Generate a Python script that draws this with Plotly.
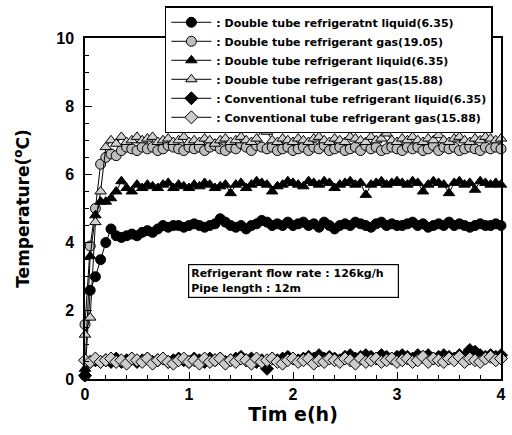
import plotly.graph_objects as go

time_h = [
    0.00, 0.05, 0.10, 0.15, 0.20, 0.25, 0.30, 0.35, 0.40, 0.45, 0.50, 0.55, 0.60, 0.65, 0.70, 0.75, 0.80, 0.85, 0.90, 0.95, 1.00,
    1.05, 1.10, 1.15, 1.20, 1.25, 1.30, 1.35, 1.40, 1.45, 1.50, 1.55, 1.60, 1.65, 1.70, 1.75, 1.80, 1.85, 1.90, 1.95, 2.00,
    2.05, 2.10, 2.15, 2.20, 2.25, 2.30, 2.35, 2.40, 2.45, 2.50, 2.55, 2.60, 2.65, 2.70, 2.75, 2.80, 2.85, 2.90, 2.95, 3.00,
    3.05, 3.10, 3.15, 3.20, 3.25, 3.30, 3.35, 3.40, 3.45, 3.50, 3.55, 3.60, 3.65, 3.70, 3.75, 3.80, 3.85, 3.90, 3.95, 4.00,
]

dt_liquid_635 = [
    0.1, 2.6, 3.0, 3.5, 4.0, 4.4, 4.2, 4.15, 4.2, 4.25, 4.2, 4.3, 4.35, 4.3, 4.4, 4.5, 4.45, 4.5, 4.5, 4.45, 4.5,
    4.55, 4.5, 4.45, 4.5, 4.55, 4.7, 4.6, 4.5, 4.45, 4.5, 4.4, 4.5, 4.55, 4.65, 4.6, 4.5, 4.55, 4.5, 4.6, 4.5,
    4.55, 4.6, 4.5, 4.55, 4.45, 4.6, 4.5, 4.4, 4.5, 4.55, 4.5, 4.6, 4.55, 4.5, 4.45, 4.55, 4.6, 4.5, 4.55, 4.5,
    4.5, 4.55, 4.6, 4.5, 4.55, 4.45, 4.5, 4.55, 4.5, 4.6, 4.5, 4.55, 4.5, 4.45, 4.5, 4.55, 4.5, 4.5, 4.55, 4.5,
]

dt_gas_1905 = [
    1.6, 3.9, 5.0, 6.3, 6.5, 6.6, 6.55, 6.7, 6.8, 6.75, 6.7, 6.8, 6.75, 6.8, 6.7, 6.75, 6.85, 6.8, 6.75, 6.7, 6.8,
    6.75, 6.8, 6.7, 6.8, 6.85, 6.75, 6.7, 6.8, 6.75, 6.9, 6.8, 6.7, 6.85, 6.8, 6.75, 6.8, 6.7, 6.75, 6.8, 6.7,
    6.75, 6.8, 6.7, 6.8, 6.75, 6.85, 6.7, 6.75, 6.8, 6.7, 6.75, 6.8, 6.7, 6.85, 6.75, 6.8, 6.7, 6.75, 6.8, 6.75,
    6.7, 6.8, 6.75, 6.8, 6.7, 6.75, 6.85, 6.7, 6.8, 6.75, 6.8, 6.7, 6.75, 6.8, 6.75, 6.7, 6.8, 6.75, 6.8, 6.75,
]

dt_liquid_635_b = [
    0.3, 3.6, 4.8, 5.2, 5.2, 5.3, 5.5, 5.8, 5.6, 5.5, 5.7, 5.6, 5.7, 5.65, 5.6, 5.7, 5.75, 5.6, 5.7, 5.65, 5.6,
    5.7, 5.65, 5.75, 5.7, 5.6, 5.65, 5.7, 5.45, 5.7, 5.75, 5.6, 5.7, 5.8, 5.75, 5.7, 5.5, 5.65, 5.7, 5.8, 5.75,
    5.7, 5.65, 5.8, 5.75, 5.7, 5.8, 5.75, 5.6, 5.7, 5.75, 5.8, 5.7, 5.75, 5.4, 5.7, 5.75, 5.8, 5.7, 5.75, 5.8,
    5.75, 5.7, 5.8, 5.75, 5.5, 5.7, 5.8, 5.75, 5.7, 5.45, 5.75, 5.8, 5.7, 5.75, 5.55, 5.8, 5.75, 5.7, 5.75, 5.7,
]

dt_gas_1588 = [
    1.3, 1.8, 4.6, 5.5, 6.8, 7.0, 6.9, 7.1, 6.95, 7.0, 7.1, 7.0, 7.05, 7.1, 6.95, 7.0, 7.05, 6.95, 7.0, 7.1, 6.95,
    7.0, 6.95, 7.05, 7.0, 6.9, 7.0, 7.05, 6.95, 7.0, 7.1, 7.0, 6.95, 7.05, 7.3, 7.25, 7.0, 6.95, 7.05, 7.0, 6.95,
    7.05, 7.0, 6.95, 7.05, 7.1, 7.0, 6.95, 7.05, 7.0, 6.95, 7.1, 7.05, 7.0, 6.95, 7.1, 7.0, 7.05, 7.2, 7.0, 6.95,
    7.05, 7.0, 7.1, 7.0, 6.95, 7.05, 7.0, 7.15, 7.0, 6.95, 7.05, 7.1, 7.0, 6.95, 7.05, 7.0, 7.1, 7.05, 7.0, 7.05,
]

conv_liquid_635 = [
    0.1, 0.5, 0.55, 0.5, 0.55, 0.5, 0.6, 0.5, 0.55, 0.6, 0.5, 0.55, 0.6, 0.5, 0.55, 0.6, 0.5, 0.55, 0.6, 0.55, 0.5,
    0.6, 0.55, 0.5, 0.6, 0.55, 0.6, 0.5, 0.55, 0.6, 0.65, 0.55, 0.6, 0.5, 0.55, 0.3, 0.6, 0.55, 0.6, 0.65, 0.6,
    0.55, 0.6, 0.65, 0.6, 0.7, 0.6, 0.65, 0.6, 0.55, 0.65, 0.7, 0.6, 0.65, 0.7, 0.65, 0.6, 0.7, 0.65, 0.6, 0.65,
    0.7, 0.65, 0.6, 0.7, 0.65, 0.7, 0.6, 0.65, 0.7, 0.65, 0.6, 0.7, 0.65, 0.85, 0.8, 0.7, 0.65, 0.7, 0.65, 0.7,
]

conv_gas_1588 = [
    0.55, 0.5, 0.6, 0.5, 0.55, 0.6, 0.5, 0.55, 0.45, 0.6, 0.55, 0.5, 0.6, 0.45, 0.55, 0.6, 0.5, 0.45, 0.55, 0.6, 0.5,
    0.55, 0.45, 0.6, 0.5, 0.55, 0.6, 0.45, 0.55, 0.5, 0.6, 0.55, 0.45, 0.6, 0.5, 0.55, 0.6, 0.5, 0.45, 0.55, 0.6,
    0.5, 0.55, 0.6, 0.45, 0.55, 0.5, 0.6, 0.55, 0.5, 0.6, 0.55, 0.45, 0.6, 0.5, 0.55, 0.6, 0.5, 0.55, 0.6, 0.5,
    0.55, 0.6, 0.5, 0.55, 0.65, 0.5, 0.6, 0.55, 0.5, 0.6, 0.55, 0.65, 0.5, 0.6, 0.55, 0.5, 0.6, 0.65, 0.55, 0.6,
]

series_names = [
    ": Double tube refrigeratnt liquid(6.35)",
    ": Double tube refrigerant gas(19.05)",
    ": Double tube refrigerant liquid(6.35)",
    ": Double tube refrigerant gas(15.88)",
    ": Conventional tube refrigerant liquid(6.35)",
    ": Conventional tube refrigerant gas(15.88)",
]
series_values = [dt_liquid_635, dt_gas_1905, dt_liquid_635_b, dt_gas_1588, conv_liquid_635, conv_gas_1588]
symbols = ["circle", "circle", "triangle-up", "triangle-up", "diamond", "diamond"]
fills = ["black", "#bdbdbd", "black", "#d0d0d0", "black", "#cccccc"]
sizes = [10, 10, 10, 10, 10, 10]

FONT = "Arial, Liberation Sans, sans-serif"
WIDE = "DejaVu Sans, sans-serif"

fig = go.Figure()
for name, vals, sym, fc, sz in zip(series_names, series_values, symbols, fills, sizes):
    fig.add_trace(go.Scatter(
        x=time_h, y=vals, name=name, mode="lines+markers",
        line=dict(color="black", width=1),
        marker=dict(symbol=sym, size=sz, color=fc, line=dict(color="black", width=1)),
        cliponaxis=False,
    ))

fig.update_layout(
    width=512, height=435,
    margin=dict(l=85, r=6, t=34, b=56),
    paper_bgcolor="white", plot_bgcolor="white",
    font=dict(family=FONT, color="black"),
    showlegend=True,
    legend=dict(
        x=0.192, y=1.093, xanchor="left", yanchor="top",
        bgcolor="white", bordercolor="black", borderwidth=1.5,
        font=dict(size=11, family=WIDE, weight="bold"),
        tracegroupgap=0, itemwidth=40,
    ),
    xaxis=dict(
        range=[0, 4], dtick=1, showgrid=False, zeroline=False,
        showline=True, linecolor="black", linewidth=1.5, mirror=True,
        ticks="inside", ticklen=7, tickwidth=1.2, tickcolor="black",
        minor=dict(ticks="inside", dtick=0.2, ticklen=4, tickcolor="black"),
        tickfont=dict(size=16, family=FONT, weight="bold"),
        title=dict(text="Tim e(h)", font=dict(size=19, family=WIDE, weight="bold"), standoff=4),
    ),
    yaxis=dict(
        range=[0, 10], dtick=2, showgrid=False, zeroline=False,
        showline=True, linecolor="black", linewidth=1.5, mirror=True,
        ticks="inside", ticklen=7, tickwidth=1.2, tickcolor="black",
        minor=dict(ticks="inside", dtick=0.5, ticklen=4, tickcolor="black"),
        tickfont=dict(size=16, family=FONT, weight="bold"),
        ticklabelstandoff=6,
        title=dict(text="Temperature(<sup>o</sup>C)", font=dict(size=17, family=WIDE, weight="bold"), standoff=22),
    ),
    annotations=[dict(
        x=2.0, y=2.87, xref="x", yref="y",
        text="Refrigerant flow rate : 126kg/h<br>Pipe length : 12m",
        showarrow=False, align="left", width=205,
        font=dict(size=11, family=WIDE, weight="bold"),
        bordercolor="black", borderwidth=1.2, borderpad=2, bgcolor="white",
    )],
)

fig.write_html("out.html")
